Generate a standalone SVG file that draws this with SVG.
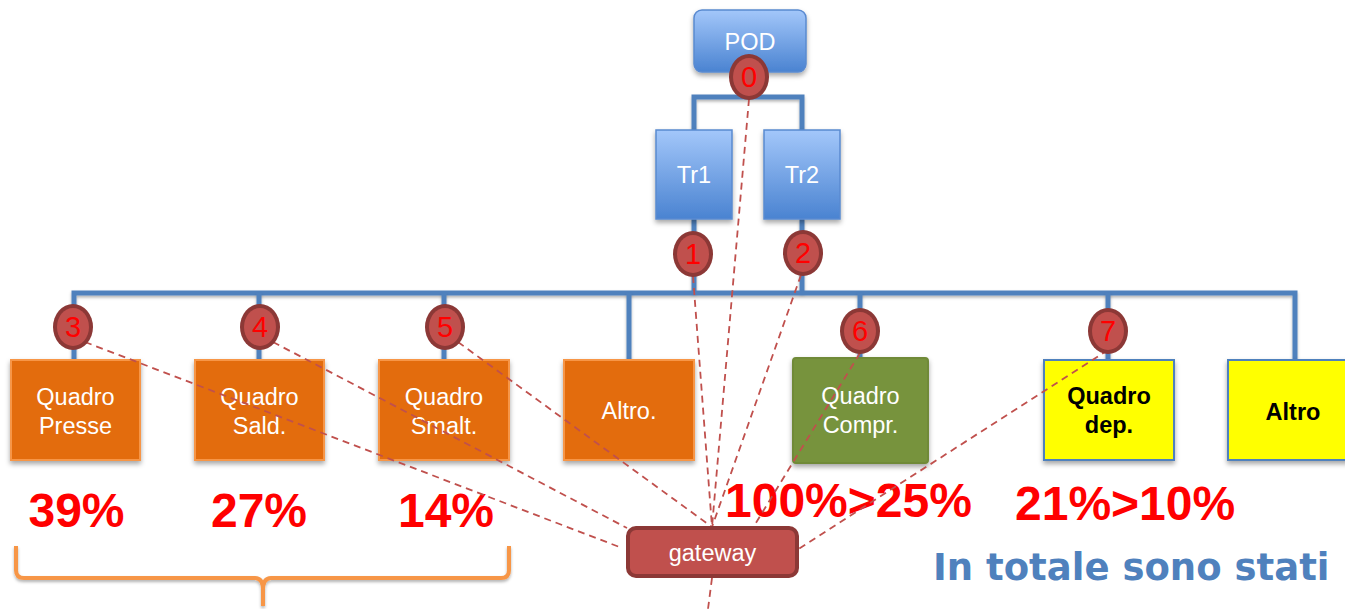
<svg xmlns="http://www.w3.org/2000/svg" width="1345" height="609" viewBox="0 0 1345 609">
  <defs>
    <linearGradient id="blueGrad" x1="0" y1="0" x2="0" y2="1">
      <stop offset="0" stop-color="#a3c7fa"/>
      <stop offset="1" stop-color="#4a83d1"/>
    </linearGradient>
    <filter id="shadow" x="-20%" y="-20%" width="140%" height="150%">
      <feDropShadow dx="0" dy="3" stdDeviation="2.5" flood-color="#000" flood-opacity="0.35"/>
    </filter>
    <filter id="lineShadow" x="-5%" y="-50%" width="110%" height="200%">
      <feDropShadow dx="0" dy="2" stdDeviation="1.5" flood-color="#000" flood-opacity="0.3"/>
    </filter>
  </defs>
  <style>
    .lbl { font-family: "Liberation Sans", Arial, sans-serif; font-size: 23.5px; text-anchor: middle; }
    .white { fill: #ffffff; }
    .black { fill: #000000; font-weight: bold; }
    .blueBox { fill: url(#blueGrad); stroke: #5a8ad0; stroke-width: 1.5; filter: url(#shadow); }
    .orange { fill: #e36c0a; stroke: #f79646; stroke-width: 2; filter: url(#shadow); }
    .green { fill: #77933c; stroke: #6f8a37; stroke-width: 2; filter: url(#shadow); }
    .yellow { fill: #ffff00; stroke: #4f81bd; stroke-width: 2; filter: url(#shadow); }
    .bus { stroke: #4f81bd; stroke-width: 5; fill: none; stroke-linejoin: miter; filter: url(#lineShadow); }
    .dash { stroke: #c0504d; stroke-width: 1.8; stroke-dasharray: 7 5; fill: none; }
    .ptOuter { fill: #8c3836; }
    .ptInner { fill: #c0504d; }
    .ptNum { font-family: "Liberation Sans", Arial, sans-serif; font-size: 29px; fill: #ff0000; text-anchor: middle; }
    .pct { font-family: "Liberation Sans", Arial, sans-serif; font-size: 48px; font-weight: bold; fill: #ff0000; }
  </style>

  <!-- power distribution lines -->
  <g id="bus-lines">
    <path class="bus" d="M749,72 V97 M694,130 V97 H802 V130"/>
    <path class="bus" d="M694,219 V293 M802,219 V293"/>
    <path class="bus" d="M74,360 V293 H1295 V360"/>
    <path class="bus" d="M259,293 V360 M444,293 V360 M629,293 V360 M860,293 V358 M1108,293 V360"/>
  </g>

  <!-- supply point and transformers -->
  <g id="node-pod">
    <rect class="blueBox" x="694" y="10" width="112" height="62" rx="8"/>
    <text class="lbl white" x="750" y="50">POD</text>
  </g>
  <g id="node-tr1">
    <rect class="blueBox" x="656" y="130" width="76" height="89"/>
    <text class="lbl white" x="694" y="183">Tr1</text>
  </g>
  <g id="node-tr2">
    <rect class="blueBox" x="764" y="130" width="76" height="89"/>
    <text class="lbl white" x="802" y="183">Tr2</text>
  </g>

  <!-- switchboards -->
  <g id="node-presse">
    <rect class="orange" x="11" y="360" width="129" height="100"/>
    <text class="lbl white" x="75.5" y="405">Quadro</text>
    <text class="lbl white" x="75.5" y="434">Presse</text>
  </g>
  <g id="node-sald">
    <rect class="orange" x="195" y="360" width="129" height="100"/>
    <text class="lbl white" x="259.5" y="405">Quadro</text>
    <text class="lbl white" x="259.5" y="434">Sald.</text>
  </g>
  <g id="node-smalt">
    <rect class="orange" x="379" y="360" width="130" height="100"/>
    <text class="lbl white" x="444" y="405">Quadro</text>
    <text class="lbl white" x="444" y="434">Smalt.</text>
  </g>
  <g id="node-altro-orange">
    <rect class="orange" x="564" y="360" width="130" height="100"/>
    <text class="lbl white" x="629" y="419">Altro.</text>
  </g>
  <g id="node-compr">
    <rect class="green" x="793" y="358" width="135" height="105" rx="3"/>
    <text class="lbl white" x="860.5" y="404">Quadro</text>
    <text class="lbl white" x="860.5" y="433">Compr.</text>
  </g>
  <g id="node-dep">
    <rect class="yellow" x="1044" y="360" width="130" height="100"/>
    <text class="lbl black" x="1109" y="404">Quadro</text>
    <text class="lbl black" x="1109" y="433">dep.</text>
  </g>
  <g id="node-altro-yellow">
    <rect class="yellow" x="1228" y="360" width="130" height="100"/>
    <text class="lbl black" x="1293" y="420">Altro</text>
  </g>

  <!-- consumption shares -->
  <g id="shares">
    <text class="pct" x="76.5" y="527" text-anchor="middle">39%</text>
    <text class="pct" x="259" y="527" text-anchor="middle">27%</text>
    <text class="pct" x="446" y="527" text-anchor="middle">14%</text>
    <text class="pct" x="725" y="517">100%&gt;25%</text>
    <text class="pct" x="1015" y="520">21%&gt;10%</text>
  </g>

  <!-- grouping brace -->
  <g id="brace">
    <path d="M16,546 V570 Q16,578 24,578 H255 Q263,578 263,590 V606 M263,590 Q263,578 271,578 H501 Q509,578 509,570 V546" fill="none" stroke="#f79646" stroke-width="4" filter="url(#lineShadow)"/>
  </g>

  <g id="summary">
    <text x="933" y="580" font-family="'DejaVu Sans', Verdana, sans-serif" font-size="37" font-weight="bold" fill="#4f81bd">In totale sono stati</text>
  </g>

  <!-- data links from meters to the gateway -->
  <g id="data-links">
    <line class="dash" x1="749" y1="99" x2="712" y2="527"/>
    <line class="dash" x1="693" y1="276" x2="712" y2="527"/>
    <line class="dash" x1="801" y1="275" x2="712" y2="527"/>
    <line class="dash" x1="85" y1="342" x2="622" y2="548"/>
    <line class="dash" x1="273" y1="342" x2="627" y2="528"/>
    <line class="dash" x1="458" y1="342" x2="712" y2="527"/>
    <line class="dash" x1="860" y1="353" x2="754" y2="526"/>
    <line class="dash" x1="1108" y1="350" x2="797" y2="550"/>
    <line class="dash" x1="712" y1="578" x2="708" y2="609"/>
  </g>

  <!-- metering points -->
  <g id="meter-0"><ellipse class="ptOuter" cx="749" cy="77" rx="20" ry="23"/><ellipse class="ptInner" cx="749" cy="77" rx="16" ry="19"/><text class="ptNum" x="749" y="87">0</text></g>
  <g id="meter-1"><ellipse class="ptOuter" cx="693" cy="254" rx="20" ry="23"/><ellipse class="ptInner" cx="693" cy="254" rx="16" ry="19"/><text class="ptNum" x="693" y="264">1</text></g>
  <g id="meter-2"><ellipse class="ptOuter" cx="803" cy="253" rx="20" ry="23"/><ellipse class="ptInner" cx="803" cy="253" rx="16" ry="19"/><text class="ptNum" x="803" y="263">2</text></g>
  <g id="meter-3"><ellipse class="ptOuter" cx="73" cy="327" rx="20" ry="23"/><ellipse class="ptInner" cx="73" cy="327" rx="16" ry="19"/><text class="ptNum" x="73" y="337">3</text></g>
  <g id="meter-4"><ellipse class="ptOuter" cx="260" cy="327" rx="20" ry="23"/><ellipse class="ptInner" cx="260" cy="327" rx="16" ry="19"/><text class="ptNum" x="260" y="337">4</text></g>
  <g id="meter-5"><ellipse class="ptOuter" cx="445" cy="327" rx="20" ry="23"/><ellipse class="ptInner" cx="445" cy="327" rx="16" ry="19"/><text class="ptNum" x="445" y="337">5</text></g>
  <g id="meter-6"><ellipse class="ptOuter" cx="860" cy="331" rx="20" ry="23"/><ellipse class="ptInner" cx="860" cy="331" rx="16" ry="19"/><text class="ptNum" x="860" y="341">6</text></g>
  <g id="meter-7"><ellipse class="ptOuter" cx="1108" cy="331" rx="20" ry="23"/><ellipse class="ptInner" cx="1108" cy="331" rx="16" ry="19"/><text class="ptNum" x="1108" y="341">7</text></g>

  <!-- gateway -->
  <g id="node-gateway">
    <rect x="628" y="528" width="169" height="48" rx="8" fill="#c0504d" stroke="#8c3836" stroke-width="4"/>
    <text class="lbl white" x="712.5" y="561">gateway</text>
  </g>
</svg>
